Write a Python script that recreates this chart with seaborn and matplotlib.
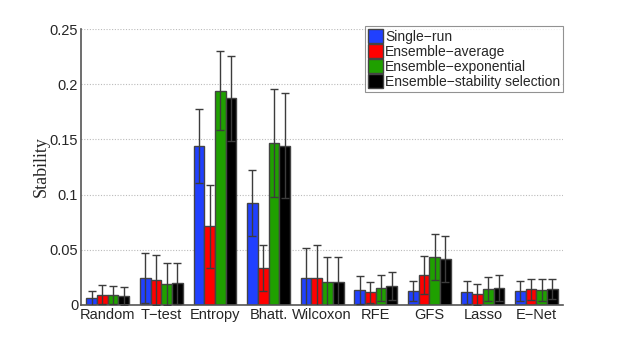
import numpy as np
import pandas as pd
import matplotlib
matplotlib.use("Agg")
import matplotlib.pyplot as plt
import seaborn as sns

methods = ["Random", "T\u2212test", "Entropy", "Bhatt.", "Wilcoxon", "RFE", "GFS", "Lasso", "E\u2212Net"]
series = ["Single\u2212run", "Ensemble\u2212average", "Ensemble\u2212exponential", "Ensemble\u2212stability selection"]

single_run = [0.0060, 0.0242, 0.1443, 0.0923, 0.0242, 0.0136, 0.0127, 0.0115, 0.0124]
ens_average = [0.0094, 0.0227, 0.0711, 0.0333, 0.0245, 0.0115, 0.0269, 0.0097, 0.0142]
ens_exponential = [0.0090, 0.0190, 0.1942, 0.1467, 0.0206, 0.0157, 0.0436, 0.0142, 0.0136]
ens_stability = [0.0082, 0.0197, 0.1872, 0.1443, 0.0206, 0.0170, 0.0417, 0.0157, 0.0145]

err_single = [0.0070, 0.0227, 0.0335, 0.0296, 0.0275, 0.0124, 0.0094, 0.0105, 0.0091]
err_average = [0.0090, 0.0224, 0.0380, 0.0210, 0.0300, 0.0097, 0.0172, 0.0094, 0.0094]
err_exponential = [0.0085, 0.0194, 0.0360, 0.0487, 0.0227, 0.0118, 0.0206, 0.0109, 0.0103]
err_stability = [0.0085, 0.0187, 0.0387, 0.0475, 0.0224, 0.0127, 0.0209, 0.0118, 0.0091]

colors = ["#2040ff", "#ff0000", "#1fa000", "#000000"]

values = [single_run, ens_average, ens_exponential, ens_stability]
errors = [err_single, err_average, err_exponential, err_stability]

rows = []
for s, vals, errs in zip(series, values, errors):
    for m, v, e in zip(methods, vals, errs):
        rows.append({"Method": m, "Series": s, "Stability": v, "Err": e})
df = pd.DataFrame(rows)

sns.set_theme(style="white")
plt.rcParams["font.family"] = ["Liberation Sans", "DejaVu Sans"]

fig = plt.figure(figsize=(6.23, 3.43), dpi=100)
ax = fig.add_axes([0.130, 0.111, 0.774, 0.804])

sns.barplot(data=df, x="Method", y="Stability", hue="Series", order=methods,
            hue_order=series, palette=colors, saturation=1, errorbar=None, width=0.8,
            edgecolor="#444444", linewidth=1.0, ax=ax, zorder=2)

# error bars at bar centres
for k, s in enumerate(series):
    sub = df[df["Series"] == s].set_index("Method").loc[methods]
    cont = ax.containers[k]
    xs = [r.get_x() + r.get_width() / 2 for r in cont]
    ax.errorbar(xs, sub["Stability"].values, yerr=sub["Err"].values, fmt="none",
                ecolor="#3c3c3c", elinewidth=1.0, capsize=3, capthick=1.0, zorder=3)

ax.set_xlim(-0.5, len(methods) - 0.5)
ax.set_ylim(0, 0.25)
ax.set_yticks([0, 0.05, 0.1, 0.15, 0.2, 0.25])
ax.set_yticklabels(["0", "0.05", "0.1", "0.15", "0.2", "0.25"], fontsize=10.5)
ax.tick_params(axis="x", labelsize=10.5, length=0, pad=2)
ax.tick_params(axis="y", length=0, pad=2)
ax.set_xlabel("")
ax.set_ylabel("Stability", fontsize=13, family=["Liberation Serif", "DejaVu Serif"], labelpad=0)
ax.yaxis.grid(True, linestyle=(0, (1, 1.5)), color="#bbbbbb", linewidth=0.8, zorder=0)
ax.set_axisbelow(True)
for side in ["top", "right"]:
    ax.spines[side].set_visible(False)
for side in ["left", "bottom"]:
    ax.spines[side].set_color("#555555")
    ax.spines[side].set_linewidth(1.2)

leg = ax.legend(loc="upper right", bbox_to_anchor=(1.0, 1.01), borderaxespad=0,
                fontsize=10, frameon=True, fancybox=False, handlelength=1.1,
                handleheight=1.1, handletextpad=0.15, labelspacing=0.05,
                borderpad=0.2, title=None)
leg.get_frame().set_edgecolor("#777777")
leg.get_frame().set_linewidth(0.8)

fig.savefig("out.png", dpi=100)
